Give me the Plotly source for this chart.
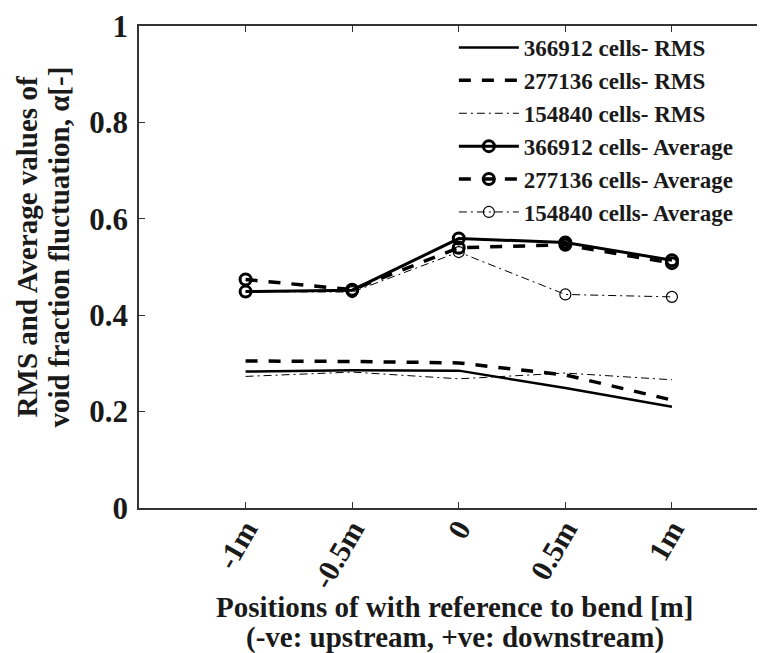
import plotly.graph_objects as go

# Data
positions = [-1, -0.5, 0, 0.5, 1]
tick_labels = ["-1m", "-0.5m", "0", "0.5m", "1m"]
y_ticks = [0, 0.2, 0.4, 0.6, 0.8, 1]
y_tick_labels = ["0", "0.2", "0.4", "0.6", "0.8", "1"]

rms_366912 = [0.283, 0.286, 0.285, 0.249, 0.210]
rms_277136 = [0.305, 0.304, 0.301, 0.276, 0.224]
rms_154840 = [0.273, 0.282, 0.268, 0.280, 0.266]

avg_366912 = [0.449, 0.452, 0.559, 0.551, 0.514]
avg_277136 = [0.474, 0.453, 0.540, 0.546, 0.508]
avg_154840 = [0.449, 0.448, 0.531, 0.443, 0.438]

FONT = "Liberation Serif"
INK = "#1a1a1a"

fig = go.Figure()

fig.add_trace(go.Scatter(x=positions, y=rms_366912, mode="lines",
                         name="<b>366912 cells- RMS</b>",
                         line=dict(color="black", width=2.5)))
fig.add_trace(go.Scatter(x=positions, y=rms_277136, mode="lines",
                         name="<b>277136 cells- RMS</b>",
                         line=dict(color="black", width=3.5, dash="12px,11px")))
fig.add_trace(go.Scatter(x=positions, y=rms_154840, mode="lines",
                         name="<b>154840 cells- RMS</b>",
                         line=dict(color="black", width=1, dash="8px,4px,2px,4px")))

fig.add_trace(go.Scatter(x=positions, y=avg_366912, mode="lines+markers",
                         name="<b>366912 cells- Average</b>",
                         line=dict(color="black", width=3),
                         marker=dict(symbol="circle-open", size=11, color="black",
                                     line=dict(width=3, color="black"))))
fig.add_trace(go.Scatter(x=positions, y=avg_277136, mode="lines+markers",
                         name="<b>277136 cells- Average</b>",
                         line=dict(color="black", width=3.5, dash="12px,11px"),
                         marker=dict(symbol="circle-open", size=11, color="black",
                                     line=dict(width=3, color="black"))))
fig.add_trace(go.Scatter(x=positions, y=avg_154840, mode="lines+markers",
                         name="<b>154840 cells- Average</b>",
                         line=dict(color="black", width=1, dash="8px,4px,2px,4px"),
                         marker=dict(symbol="circle-open", size=11, color="black",
                                     line=dict(width=1.2, color="black"))))

axis_common = dict(
    showline=True, linecolor="#333", linewidth=1.5, mirror="ticks",
    ticks="inside", ticklen=6, tickcolor="#333", tickwidth=1,
    showgrid=False, zeroline=False, ticklabeloverflow="allow",
)

fig.update_xaxes(range=[-1.5, 1.46], tickvals=positions,
                 ticktext=["<b>" + t + "</b>" for t in tick_labels],
                 tickangle=-60, ticklabelstandoff=-10,
                 tickfont=dict(family=FONT, size=30, color=INK), **axis_common)
fig.update_yaxes(range=[0, 1], tickvals=y_ticks,
                 ticktext=["<b>" + t + "</b>" for t in y_tick_labels],
                 ticklabelstandoff=3,
                 tickfont=dict(family=FONT, size=31, color=INK), **axis_common)

title_font = dict(family=FONT, size=29, color=INK)
# x-axis title (two lines)
fig.add_annotation(text="<b>Positions of with reference to bend [m]</b>",
                   xref="paper", yref="paper", x=0.5, y=-0.205,
                   xanchor="center", yanchor="middle", showarrow=False, font=title_font)
fig.add_annotation(text="<b>(-ve: upstream, +ve: downstream)</b>",
                   xref="paper", yref="paper", x=0.5, y=-0.268,
                   xanchor="center", yanchor="middle", showarrow=False, font=title_font)
# y-axis title (two lines)
fig.add_annotation(text="<b>RMS and Average values of</b>",
                   xref="paper", yref="paper", x=-0.178, y=0.542,
                   xanchor="center", yanchor="middle", textangle=-90, showarrow=False,
                   font=title_font)
fig.add_annotation(text="<b>void fraction fluctuation, α[-]</b>",
                   xref="paper", yref="paper", x=-0.127, y=0.542,
                   xanchor="center", yanchor="middle", textangle=-90, showarrow=False,
                   font=title_font)

fig.update_layout(
    width=765, height=653,
    margin=dict(l=131, r=1, t=17, b=153),
    plot_bgcolor="white", paper_bgcolor="white",
    font=dict(family=FONT, color=INK),
    legend=dict(x=0.499, y=1.0, xanchor="left", yanchor="top",
                bgcolor="rgba(255,255,255,0)", borderwidth=0,
                font=dict(family=FONT, size=23, color=INK),
                itemwidth=60, tracegroupgap=0),
    showlegend=True,
)

fig.write_html("out.html")
